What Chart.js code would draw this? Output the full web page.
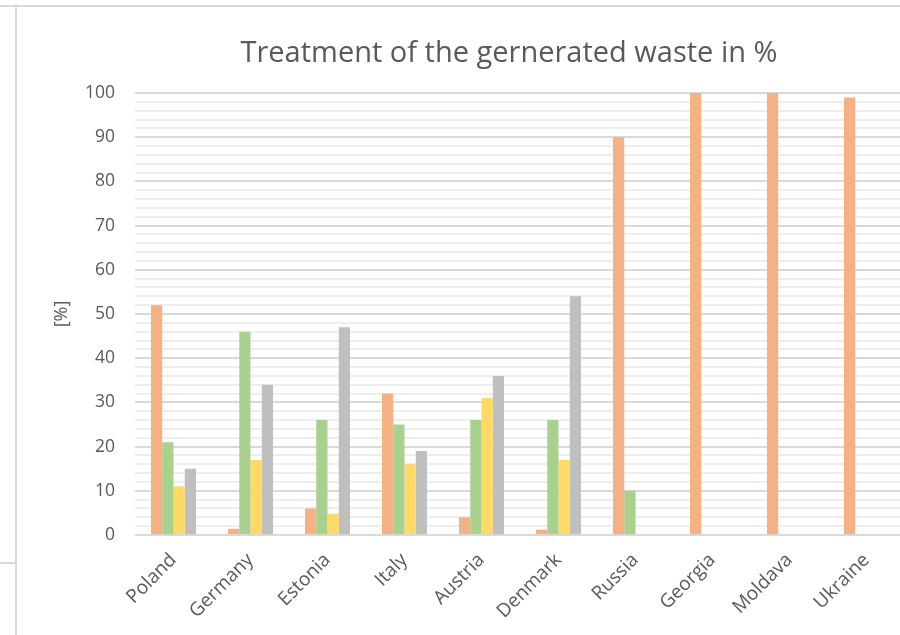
<!DOCTYPE html>
<html>
<head>
<meta charset="utf-8">
<script src="https://cdn.jsdelivr.net/npm/chart.js@4"></script>
<style>
  html, body { margin:0; padding:0; background:#fff; overflow:hidden; width:900px; height:635px; }
  #wrap { position:absolute; left:0; top:0; width:905px; height:635px; }
  .ln { position:absolute; background:#d9d9d9; }
</style>
</head>
<body>
<div id="wrap"><canvas id="c" width="905" height="635"></canvas></div>
<div class="ln" style="left:0;top:5px;width:900px;height:2px;"></div>
<div class="ln" style="left:15px;top:5px;width:2px;height:630px;"></div>
<div class="ln" style="left:0;top:562px;width:15px;height:2px;"></div>
<script>
const categories = ['Poland','Germany','Estonia','Italy','Austria','Denmark','Russia','Georgia','Moldava','Ukraine'];
const series1 = [52, 1.4, 6, 32, 4, 1.2, 90, 100, 100, 99];
const series2 = [21, 46, 26, 25, 26, 26, 10, 0, 0, 0];
const series3 = [11, 17, 4.8, 16, 31, 17, 0, 0, 0, 0];
const series4 = [15, 34, 47, 19, 36, 54, 0, 0, 0, 0];
const seriesNames = ['Series 1','Series 2','Series 3','Series 4'];
const colors = ['#F4B183','#A9D18E','#FFD966','#BFBFBF'];
const titleText = 'Treatment of the gernerated waste in %';
const yTitle = '[%]';

const txt = '#595959';
const fam = "'Open Sans', sans-serif";

// shift the title box slightly left (the reference chart is cropped on the right)
const titleShift = {
  id: 'titleShift',
  afterLayout(chart) {
    const tb = chart.titleBlock;
    if (tb) { tb.left -= 11; tb.right -= 11; }
  }
};

new Chart(document.getElementById('c'), {
  type: 'bar',
  data: {
    labels: categories,
    datasets: [series1, series2, series3, series4].map((d, i) => ({
      label: seriesNames[i],
      data: d,
      backgroundColor: colors[i],
      borderWidth: 0,
      categoryPercentage: 0.585,
      barPercentage: 1.0
    }))
  },
  plugins: [titleShift],
  options: {
    responsive: false,
    animation: false,
    layout: { padding: { left: 40, right: 0, top: 0, bottom: 0 } },
    plugins: {
      legend: { display: false },
      tooltip: { enabled: false },
      title: {
        display: true,
        text: titleText,
        fullSize: false,
        color: txt,
        font: { family: fam, size: 29, weight: 'normal' },
        padding: { top: 36.6, bottom: 21.6 }
      }
    },
    scales: {
      x: {
        grid: { display: false, drawTicks: false },
        border: { display: false },
        ticks: {
          color: txt,
          font: { family: fam, size: 19 },
          minRotation: 45,
          maxRotation: 45,
          padding: 14,
          autoSkip: false
        },
        afterFit: (s) => { s.height = 100; }
      },
      y: {
        min: 0,
        max: 100,
        border: { display: false },
        grid: {
          drawTicks: false,
          color: (ctx) => (ctx.tick && ctx.tick.value % 10 === 0) ? '#d9d9d9' : '#eeeeee',
          lineWidth: 2
        },
        ticks: {
          stepSize: 2,
          autoSkip: false,
          color: txt,
          padding: 20,
          font: { family: fam, size: 17.5 },
          callback: (v) => (v % 10 === 0 ? String(v) : '')
        },
        title: {
          display: true,
          text: yTitle,
          color: txt,
          font: { family: fam, size: 18 },
          padding: { top: 11, bottom: 0 }
        },
        afterFit: (s) => { s.width = 95; }
      }
    }
  }
});
</script>
</body>
</html>
